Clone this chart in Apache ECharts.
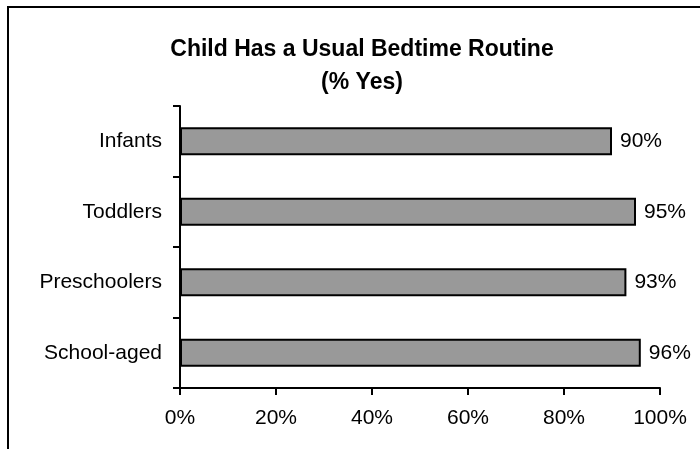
<!DOCTYPE html>
<html>
<head>
<meta charset="utf-8">
<script src="https://cdn.jsdelivr.net/npm/echarts@6/dist/echarts.min.js"></script>
<style>
html, body { margin: 0; padding: 0; background: #fff; }
#chart { width: 700px; height: 449px; }
</style>
</head>
<body>
<div id="chart"></div>
<script>
// data
var categories = ['Infants', 'Toddlers', 'Preschoolers', 'School-aged'];
var yesPct = [90, 95, 93, 96];
var xTicks = [0, 20, 40, 60, 80, 100];

var font = '"Liberation Sans", Arial, sans-serif';
var chart = echarts.init(document.getElementById('chart'));

chart.setOption({
    animation: false,
    backgroundColor: '#fff',
    textStyle: { fontFamily: font },
    graphic: [{
        type: 'rect',
        shape: { x: 8, y: 7, width: 720, height: 470 },
        style: { fill: 'none', stroke: '#000', lineWidth: 2 }
    }],
    title: {
        text: 'Child Has a Usual Bedtime Routine\n(% Yes)',
        left: 357,
        textAlign: 'center',
        top: 28,
        textStyle: { fontFamily: font, fontSize: 23, fontWeight: 'bold', color: '#000', lineHeight: 33 }
    },
    grid: { left: 180, right: 40, top: 106, bottom: 61 },
    xAxis: {
        type: 'value',
        min: xTicks[0],
        max: xTicks[xTicks.length - 1],
        interval: 20,
        splitLine: { show: false },
        axisLine: { show: true, lineStyle: { color: '#000', width: 2 } },
        axisTick: { show: true, length: 7, lineStyle: { color: '#000', width: 2 } },
        axisLabel: { formatter: '{value}%', fontSize: 21, color: '#000', margin: 20, fontFamily: font }
    },
    yAxis: {
        type: 'category',
        data: categories,
        inverse: true,
        axisLine: { show: true, lineStyle: { color: '#000', width: 2 } },
        axisTick: { show: true, alignWithLabel: false, length: 7, lineStyle: { color: '#000', width: 2 } },
        axisLabel: { fontSize: 21, color: '#000', margin: 18, fontFamily: font }
    },
    series: [{
        type: 'bar',
        data: yesPct,
        barWidth: '40%',
        itemStyle: { color: '#999999', borderColor: '#000', borderWidth: 2 },
        label: {
            show: true,
            position: 'right',
            distance: 8,
            formatter: '{c}%',
            fontSize: 21,
            color: '#000',
            fontFamily: font
        }
    }]
});
</script>
</body>
</html>
